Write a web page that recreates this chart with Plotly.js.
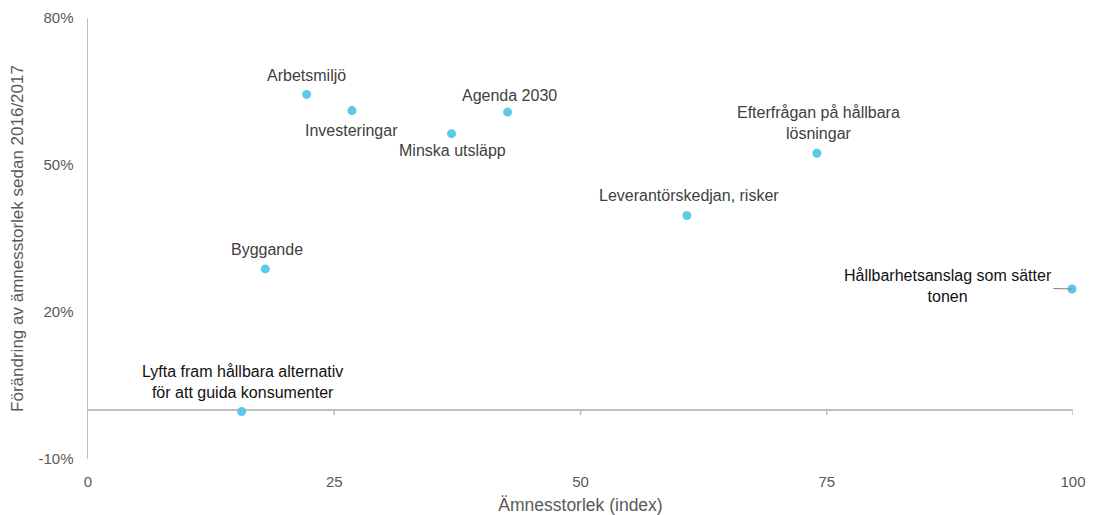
<!DOCTYPE html>
<html>
<head>
<meta charset="utf-8">
<script src="https://cdn.plot.ly/plotly-3.0.1.min.js"></script>
<style>html,body{margin:0;padding:0;background:#fff;}#chart{width:1095px;height:515px;}</style>
</head>
<body>
<div id="chart"></div>
<script>
// ---- data ----
const topics = [
  "Arbetsmiljö",
  "Investeringar",
  "Agenda 2030",
  "Minska utsläpp",
  "Efterfrågan på hållbara<br>lösningar",
  "Leverantörskedjan, risker",
  "Byggande",
  "Hållbarhetsanslag som sätter<br>tonen",
  "Lyfta fram hållbara alternativ<br>för att guida konsumenter"
];
const topicSize = [22.2, 26.8, 42.6, 36.9, 74.0, 60.8, 18.0, 99.9, 15.6];
const sizeChange = [64.4, 61.1, 60.8, 56.4, 52.4, 39.7, 28.8, 24.7, -0.3];
const xTicks = [0, 25, 50, 75, 100];
const yTicks = [-10, 20, 50, 80];
const yTickText = ["-10%", "20%", "50%", "80%"];

// ---- label placement (style) ----
const labelShift = [
  {dx: 0, dy: 19},
  {dx: 0, dy: -20},
  {dx: 2, dy: 17},
  {dx: 1, dy: -17},
  {dx: 2, dy: 30},
  {dx: 2, dy: 20},
  {dx: 2, dy: 19},
  {arrow: true, ax: -124, ay: -3},
  {dx: 1, dy: 29}
];
const labelDark = [false, false, false, false, false, false, false, true, true];

const font = "Liberation Sans, Arial, sans-serif";

const trace = {
  type: "scatter",
  mode: "markers",
  x: topicSize,
  y: sizeChange,
  marker: {color: "#5BC9E8", size: 9},
  hoverinfo: "skip",
  cliponaxis: false
};

const annotations = topics.map((t, i) => {
  const s = labelShift[i];
  const a = {
    x: topicSize[i], y: sizeChange[i], xref: "x", yref: "y",
    text: t, align: "center",
    font: {family: font, size: 16, color: labelDark[i] ? "#111111" : "#404040"}
  };
  if (s.arrow) {
    Object.assign(a, {showarrow: true, ax: s.ax, ay: s.ay, arrowhead: 0,
      arrowwidth: 1, arrowcolor: "#7f7f7f", standoff: 0});
  } else {
    Object.assign(a, {showarrow: false, xshift: s.dx, yshift: s.dy});
  }
  return a;
});

const shapes = xTicks.filter(v => v > 0).map(v => ({
  type: "line", xref: "x", yref: "y", ysizemode: "pixel", yanchor: 0,
  x0: v, x1: v, y0: 0, y1: -5,
  line: {color: "#bfbfbf", width: 1.5}
}));

const layout = {
  width: 1095, height: 515,
  margin: {l: 88, r: 22, t: 18, b: 56},
  paper_bgcolor: "#fff", plot_bgcolor: "#fff",
  showlegend: false,
  font: {family: font, color: "#595959"},
  xaxis: {
    range: [0, 100], tickvals: xTicks, ticktext: xTicks.map(String),
    showgrid: false, zeroline: false, showline: false, ticks: "",
    tickfont: {family: font, size: 15, color: "#595959"},
    ticklabelstandoff: 12,
    title: {text: "Ämnesstorlek (index)", font: {family: font, size: 17.5, color: "#595959"}, standoff: 10}
  },
  yaxis: {
    range: [-10, 80], tickvals: yTicks, ticktext: yTickText,
    showgrid: false, zeroline: true, zerolinecolor: "#bfbfbf", zerolinewidth: 1.5,
    showline: true, linecolor: "#bfbfbf", linewidth: 1.5, ticks: "",
    tickfont: {family: font, size: 15, color: "#595959"},
    ticklabelstandoff: 10,
    title: {text: "Förändring av ämnesstorlek sedan 2016/2017", font: {family: font, size: 17, color: "#595959"}, standoff: 10}
  },
  shapes: shapes,
  annotations: annotations
};

Plotly.newPlot("chart", [trace], layout, {displayModeBar: false, staticPlot: true});
</script>
</body>
</html>
